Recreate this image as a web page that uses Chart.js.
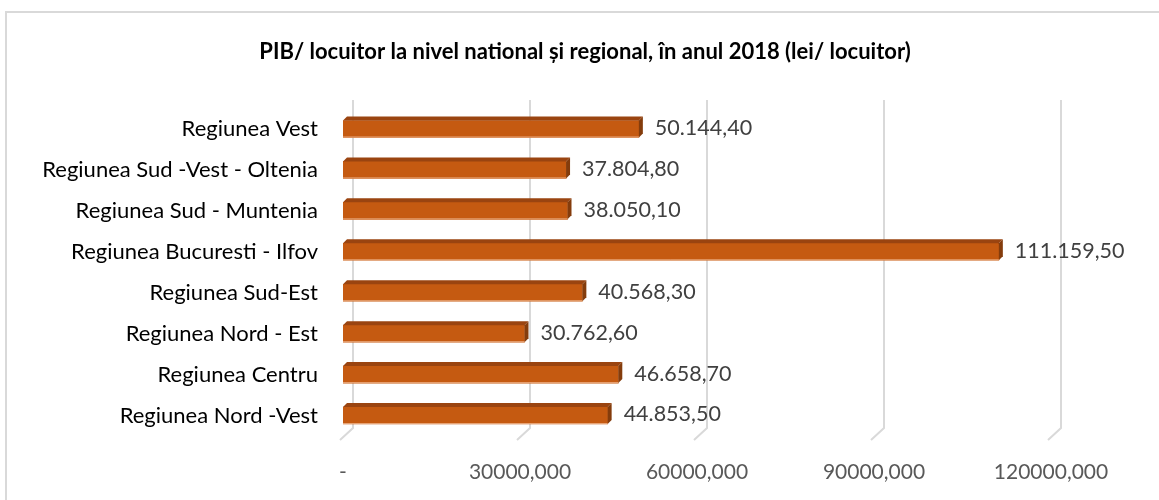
<!DOCTYPE html>
<html>
<head>
<meta charset="utf-8">
<script src="https://cdn.jsdelivr.net/npm/chart.js@4"></script>
<style>
  html, body { margin: 0; padding: 0; background: #fff; overflow: hidden; }
  #wrap { position: relative; width: 1159px; height: 500px; }
  #frame { position: absolute; left: 5px; top: 11px; width: 1170px; height: 520px; border: 2px solid #d9d9d9; box-sizing: border-box; pointer-events: none; }
  canvas { position: absolute; left: 0; top: 0; }
</style>
</head>
<body>
<div id="wrap">
  <div id="frame"></div>
  <canvas id="c" width="1159" height="500"></canvas>
</div>
<script>
const titleText = 'PIB/ locuitor la nivel national și regional, în anul 2018 (lei/ locuitor)';
const categories = [
  'Regiunea Vest',
  'Regiunea Sud -Vest - Oltenia',
  'Regiunea Sud - Muntenia',
  'Regiunea Bucuresti - Ilfov',
  'Regiunea Sud-Est',
  'Regiunea Nord - Est',
  'Regiunea Centru',
  'Regiunea Nord -Vest'
];
const values = [50144.40, 37804.80, 38050.10, 111159.50, 40568.30, 30762.60, 46658.70, 44853.50];
const tickValues = [0, 30000, 60000, 90000, 120000];
const tickLabels = ['-', '30000,000', '60000,000', '90000,000', '120000,000'];

function fmtRo(v) {
  const parts = v.toFixed(2).split('.');
  const intPart = parts[0].replace(/\B(?=(\d{3})+(?!\d))/g, '.');
  return intPart + ',' + parts[1];
}

const FONT = 'Lato, "Open Sans", sans-serif';

const titlePlugin = {
  id: 'customTitle',
  afterDraw(chart) {
    const ctx = chart.ctx;
    ctx.save();
    ctx.fillStyle = '#000';
    ctx.font = 'bold 22px ' + FONT;
    ctx.textAlign = 'center';
    ctx.textBaseline = 'middle';
    ctx.fillText(titleText, 585, 52);
    ctx.restore();
  }
};

const gridPlugin = {
  id: 'grid3d',
  beforeDatasetsDraw(chart) {
    const ctx = chart.ctx, xs = chart.scales.x;
    ctx.save();
    ctx.strokeStyle = '#d9d9d9';
    ctx.lineWidth = 2;
    tickValues.forEach(v => {
      const px = xs.getPixelForValue(v);
      ctx.beginPath();
      ctx.moveTo(px + 10, 100);
      ctx.lineTo(px + 10, 428);
      ctx.lineTo(px - 3, 440);
      ctx.stroke();
    });
    ctx.restore();
  }
};

const bar3dPlugin = {
  id: 'bar3d',
  afterDatasetsDraw(chart) {
    const ctx = chart.ctx;
    const meta = chart.getDatasetMeta(0);
    const d = 4;
    ctx.save();
    meta.data.forEach((bar, i) => {
      const p = bar.getProps(['x', 'y', 'base', 'height'], true);
      const top = p.y - p.height / 2, bot = p.y + p.height / 2;
      ctx.fillStyle = '#9a4410';
      ctx.beginPath();
      ctx.moveTo(p.base, top);
      ctx.lineTo(p.base + d, top - d);
      ctx.lineTo(p.x + d, top - d);
      ctx.lineTo(p.x, top);
      ctx.closePath();
      ctx.fill();
      ctx.fillStyle = '#843c0c';
      ctx.beginPath();
      ctx.moveTo(p.x, top);
      ctx.lineTo(p.x + d, top - d);
      ctx.lineTo(p.x + d, bot - d);
      ctx.lineTo(p.x, bot);
      ctx.closePath();
      ctx.fill();
      ctx.strokeStyle = '#e9a77a';
      ctx.lineWidth = 1;
      ctx.beginPath();
      ctx.moveTo(p.base, bot - 0.5);
      ctx.lineTo(p.x, bot - 0.5);
      ctx.stroke();
      ctx.fillStyle = '#404040';
      ctx.font = '21.5px ' + FONT;
      ctx.textAlign = 'left';
      ctx.textBaseline = 'middle';
      ctx.fillText(fmtRo(values[i]), p.x + 16, p.y - 1);
    });
    ctx.restore();
  }
};

new Chart(document.getElementById('c'), {
  type: 'bar',
  data: {
    labels: categories,
    datasets: [{
      data: values,
      backgroundColor: '#c55a11',
      borderWidth: 0,
      barThickness: 17
    }]
  },
  options: {
    indexAxis: 'y',
    responsive: false,
    animation: false,
    devicePixelRatio: 1,
    layout: { padding: { left: 0, right: 108, top: 108.5, bottom: 0 } },
    plugins: {
      legend: { display: false },
      tooltip: { enabled: false },
      title: { display: false }
    },
    scales: {
      x: {
        type: 'linear',
        min: 0,
        max: 120000,
        afterBuildTicks(scale) { scale.ticks = tickValues.map(v => ({ value: v })); },
        afterFit(scale) { scale.height = 64; },
        grid: { display: false, drawTicks: false },
        border: { display: false },
        ticks: {
          padding: 24,
          color: '#595959',
          font: { family: FONT, size: 21 },
          maxRotation: 0,
          callback(value) {
            const idx = tickValues.indexOf(value);
            return idx >= 0 ? tickLabels[idx] : '';
          }
        }
      },
      y: {
        type: 'category',
        offset: true,
        afterFit(scale) { scale.width = 343; },
        grid: { display: false, drawTicks: false },
        border: { display: false },
        ticks: {
          padding: 25,
          color: '#000',
          font: { family: FONT, size: 22 }
        }
      }
    }
  },
  plugins: [gridPlugin, bar3dPlugin, titlePlugin]
});
</script>
</body>
</html>
